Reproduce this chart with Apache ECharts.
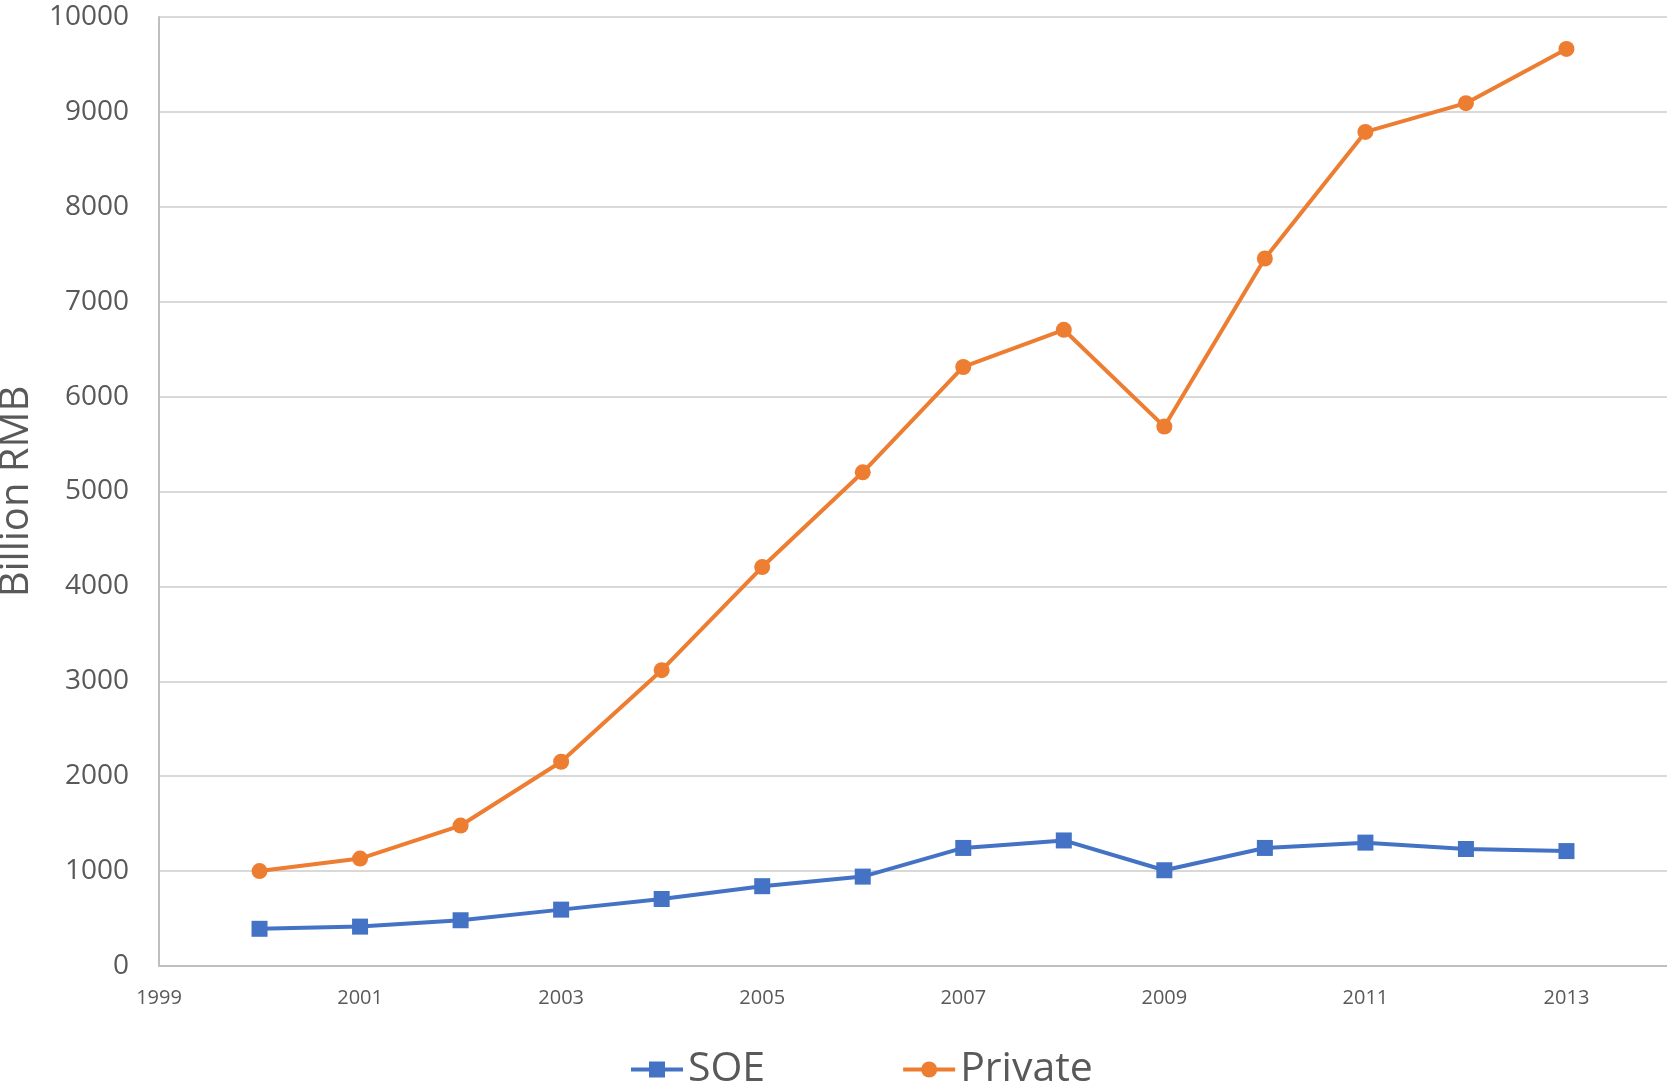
<!DOCTYPE html>
<html>
<head>
<meta charset="utf-8">
<script src="https://cdn.jsdelivr.net/npm/echarts@6/dist/echarts.min.js"></script>
<style>
html,body{margin:0;padding:0;background:#fff;}
#chart{width:1667px;height:1087px;}
</style>
</head>
<body>
<div id="chart"></div>
<script>
const years = [2000, 2001, 2002, 2003, 2004, 2005, 2006, 2007, 2008, 2009, 2010, 2011, 2012, 2013];
const soeValues = [392, 415, 482, 594, 706, 841, 942, 1244, 1323, 1009, 1244, 1300, 1233, 1211];
const privateValues = [1000, 1132, 1480, 2152, 3117, 4204, 5202, 6312, 6704, 5684, 7455, 8789, 9092, 9664];
const seriesNames = ['SOE', 'Private'];
const yAxisTitle = 'Billion RMB';

const FONT = '"Open Sans", "Noto Sans", sans-serif';
const TEXT = '#595959';

const chart = echarts.init(document.getElementById('chart'));
chart.setOption({
  animation: false,
  backgroundColor: '#fff',
  textStyle: { fontFamily: FONT },
  grid: { left: 159, top: 17, right: 0, bottom: 121, containLabel: false, outerBoundsMode: 'none' },
  legend: {
    top: 1044,
    left: 624,
    itemWidth: 52,
    itemHeight: 20,
    itemGap: 136,
    lineStyle: { width: 4 },
    textStyle: { fontSize: 41, color: TEXT, fontFamily: FONT },
    data: seriesNames
  },
  xAxis: {
    type: 'value',
    min: 1999,
    max: 2014,
    interval: 2,
    axisLine: { show: true, lineStyle: { color: '#BFBFBF', width: 2 } },
    axisTick: { show: false },
    splitLine: { show: false },
    axisLabel: {
      color: TEXT, fontSize: 20, margin: 22, fontFamily: FONT,
      showMaxLabel: false,
      formatter: v => (v % 2 === 1 ? String(v) : '')
    }
  },
  yAxis: {
    type: 'value',
    min: 0,
    max: 10000,
    interval: 1000,
    name: yAxisTitle,
    nameLocation: 'middle',
    nameGap: 122,
    nameTextStyle: { fontSize: 40, color: TEXT, fontFamily: FONT },
    axisLine: { show: true, lineStyle: { color: '#BFBFBF', width: 2 } },
    axisTick: { show: false },
    splitLine: { show: true, lineStyle: { color: '#D9D9D9', width: 2 } },
    axisLabel: { color: TEXT, fontSize: 28, margin: 30, fontFamily: FONT, formatter: v => String(v) }
  },
  series: [
    {
      name: seriesNames[0],
      type: 'line',
      data: years.map((y, i) => [y, soeValues[i]]),
      color: '#4472C4',
      symbol: 'rect',
      symbolSize: 16,
      lineStyle: { width: 4, color: '#4472C4' },
      itemStyle: { color: '#4472C4' }
    },
    {
      name: seriesNames[1],
      type: 'line',
      data: years.map((y, i) => [y, privateValues[i]]),
      color: '#ED7D31',
      symbol: 'circle',
      symbolSize: 16,
      lineStyle: { width: 4, color: '#ED7D31' },
      itemStyle: { color: '#ED7D31' }
    }
  ]
});
</script>
</body>
</html>
